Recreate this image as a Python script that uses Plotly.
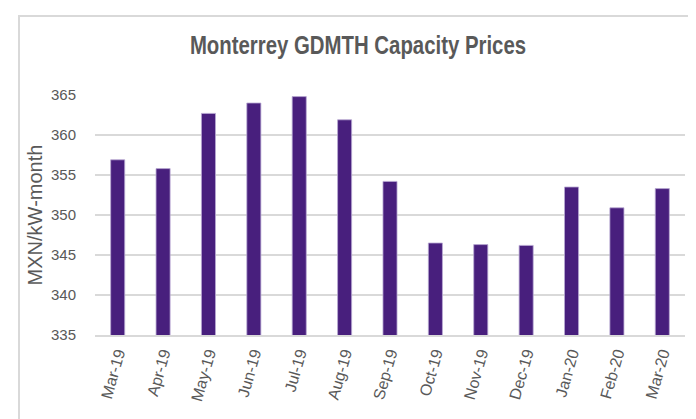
import plotly.graph_objects as go

months = ["Mar-19", "Apr-19", "May-19", "Jun-19", "Jul-19", "Aug-19", "Sep-19",
          "Oct-19", "Nov-19", "Dec-19", "Jan-20", "Feb-20", "Mar-20"]
prices = [356.9, 355.8, 362.7, 364.0, 364.8, 361.9, 354.2,
          346.5, 346.3, 346.2, 353.5, 350.9, 353.3]
y_ticks = [335, 340, 345, 350, 355, 360, 365]

W, H = 696, 419
L, R, T, B = 87, 19, 87, 92
pw, ph = W - L - R, H - T - B

def px(x):
    return (x - L) / pw

def py(y):
    return (H - B - y) / ph

bar_color = "#481F7D"
grey_text = "#595959"
grid = "#D9D9D9"

fig = go.Figure(go.Bar(
    x=months, y=prices, base=0,
    marker=dict(color=bar_color, line=dict(color="#B9A9D3", width=0.8)),
))

fig.update_layout(
    width=W, height=H,
    margin=dict(l=L, r=R, t=T, b=B),
    paper_bgcolor="white", plot_bgcolor="white",
    bargap=0.69,
    showlegend=False,
    title=dict(text="<b>Monterrey GDMTH Capacity Prices</b>",
               x=px(350), xanchor="center", xref="paper",
               y=1 - 37 / H, yanchor="middle",
               font=dict(family="Liberation Sans, Arial", size=25, color=grey_text)),
    shapes=[dict(type="rect", xref="paper", yref="paper",
                 x0=px(11), x1=px(692), y0=py(425), y1=py(8),
                 line=dict(color=grid, width=2), fillcolor="rgba(0,0,0,0)", layer="below")],
)

fig.update_yaxes(
    range=[335, 365], tickvals=y_ticks,
    showgrid=True, gridcolor=grid, gridwidth=1.5,
    zeroline=False, showline=False,
    ticks="outside", ticklen=15, tickcolor="rgba(0,0,0,0)",
    tickfont=dict(family="Liberation Sans, Arial", size=15, color=grey_text),
    title=dict(text="MXN/kW-month", standoff=2,
               font=dict(family="Liberation Sans, Arial", size=20, color=grey_text)),
)

fig.update_xaxes(
    showline=True, linecolor=grid, linewidth=1.5,
    showgrid=False, tickangle=-74,
    ticks="outside", ticklen=1, tickcolor="rgba(0,0,0,0)",
    tickfont=dict(family="Liberation Sans, Arial", size=16, color=grey_text),
)

# narrow the title horizontally (reference uses a condensed face)
post = """
var gd = document.getElementsByClassName('plotly-graph-div')[0];
function squeeze(){
  var t = gd.querySelector('.gtitle');
  if(!t) return;
  var cx = parseFloat(t.getAttribute('x'));
  t.setAttribute('transform', 'translate(' + cx + ',0) scale(0.815,1) translate(' + (-cx) + ',0)');
}
squeeze();
gd.on('plotly_afterplot', squeeze);
"""

fig.write_html("out.html", post_script=post)
